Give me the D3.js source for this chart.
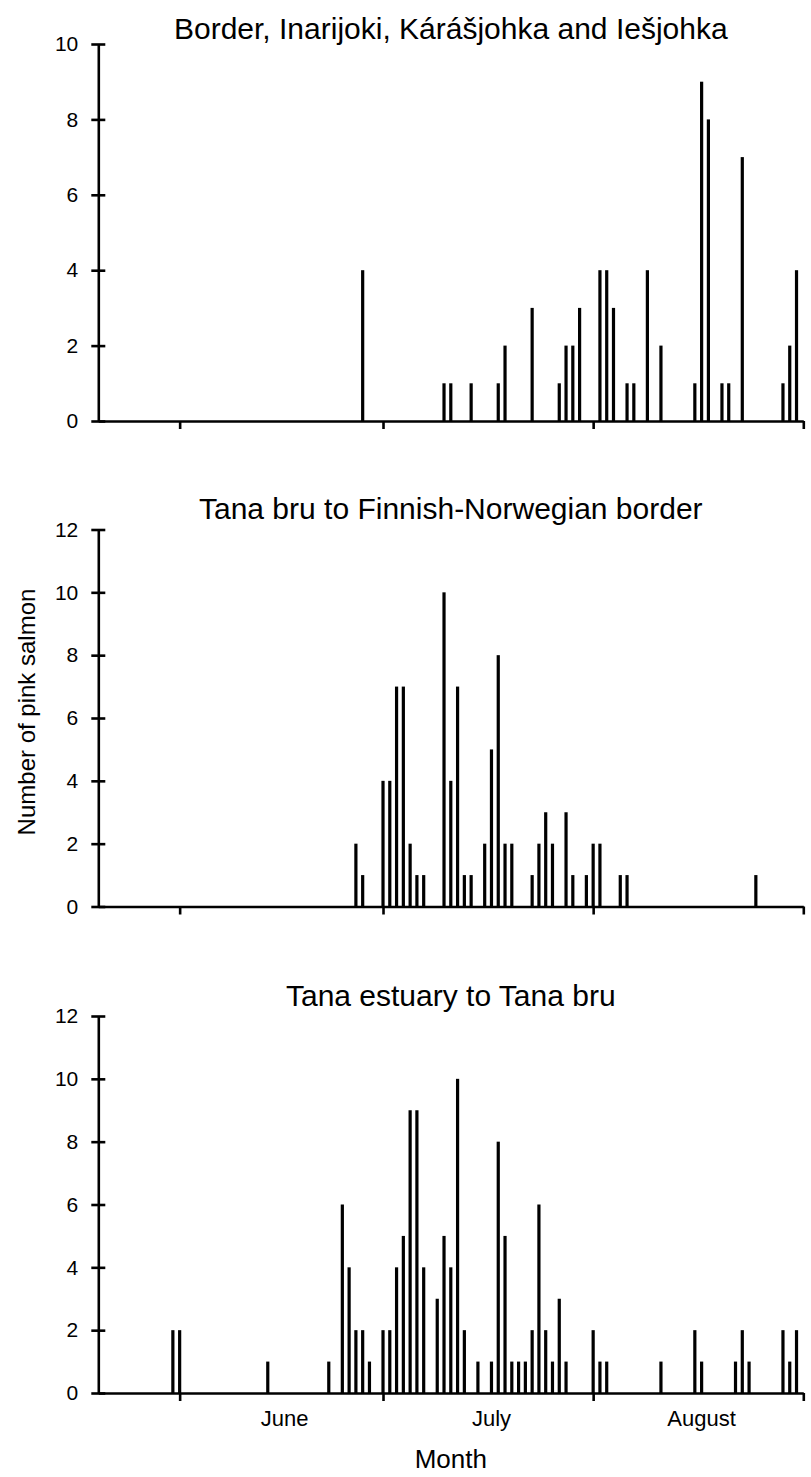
<!DOCTYPE html>
<html>
<head>
<meta charset="utf-8">
<script src="https://cdn.jsdelivr.net/npm/d3@7"></script>
<style>
  body { margin: 0; background: #fff; }
  svg { display: block; }
  text { font-family: "Liberation Sans", Arial, Helvetica, sans-serif; fill: #000; }
</style>
</head>
<body>
<svg id="chart" width="811" height="1477"></svg>
<script>
// Daily catches of pink salmon. Day numbers count from 1 June (day 0);
// negative days fall in late May, day 92 is 1 September.
const borderDays   = [27, 39, 40, 43, 47, 48, 52, 56, 57, 58, 59, 62, 63, 64, 66, 67, 69, 71, 76, 77, 78, 80, 81, 83, 89, 90, 91];
const borderCounts = [ 4,  1,  1,  1,  1,  2,  3,  1,  2,  2,  3,  4,  4,  3,  1,  1,  4,  2,  1,  9,  8,  1,  1,  7,  1,  2,  4];

const bridgeDays   = [26, 27, 30, 31, 32, 33, 34, 35, 36, 39, 40, 41, 42, 43, 45, 46, 47, 48, 49, 52, 53, 54, 55, 57, 58, 60, 61, 62, 65, 66, 85];
const bridgeCounts = [ 2,  1,  4,  4,  7,  7,  2,  1,  1, 10,  4,  7,  1,  1,  2,  5,  8,  2,  2,  1,  2,  3,  2,  3,  1,  1,  2,  2,  1,  1,  1];

const estuaryDays   = [-1, 0, 13, 22, 24, 25, 26, 27, 28, 30, 31, 32, 33, 34, 35, 36, 38, 39, 40, 41, 42, 44, 46, 47, 48, 49, 50, 51, 52, 53, 54, 55, 56, 57, 61, 62, 63, 71, 76, 77, 82, 83, 84, 89, 90, 91];
const estuaryCounts = [ 2, 2,  1,  1,  6,  4,  2,  2,  1,  2,  2,  4,  5,  9,  9,  4,  3,  5,  4, 10,  2,  1,  1,  8,  5,  1,  1,  1,  2,  6,  2,  1,  3,  1,  2,  1,  1,  1,  2,  1,  1,  2,  1,  2,  1,  2];

const panelTitles = [
  "Border, Inarijoki, Kárášjohka and Iešjohka",
  "Tana bru to Finnish-Norwegian border",
  "Tana estuary to Tana bru"
];
const panelMax = [10, 12, 12];

const monthStarts = [0, 30, 61, 92];
const monthNames  = ["June", "July", "August"];

const panels = [
  { title: panelTitles[0], days: borderDays,  counts: borderCounts,  yMax: panelMax[0] },
  { title: panelTitles[1], days: bridgeDays,  counts: bridgeCounts,  yMax: panelMax[1] },
  { title: panelTitles[2], days: estuaryDays, counts: estuaryCounts, yMax: panelMax[2] }
];

const svg = d3.select("#chart");
const left = 98.3, right = 803.3, plotH = 377;
const tops = [44, 529.5, 1016];
const titleGap = [5, 10.5, 10];
const axisW = 2.6, barW = 3.2;

const x = d3.scaleLinear().domain([-12, 92]).range([left, right]);

panels.forEach((p, i) => {
  const top = tops[i], bottom = top + plotH;
  const y = d3.scaleLinear().domain([0, p.yMax]).range([bottom, top]);
  const g = svg.append("g");

  // panel title
  g.append("text")
    .attr("x", (left + right) / 2)
    .attr("y", top - titleGap[i])
    .attr("text-anchor", "middle")
    .style("font-size", "30px")
    .text(p.title);

  // one bar per day with catches
  g.append("g").selectAll("rect")
    .data(p.days.map((d, k) => ({ day: d, n: p.counts[k] })))
    .join("rect")
    .attr("x", d => x(d.day) - barW / 2)
    .attr("width", barW)
    .attr("y", d => y(d.n))
    .attr("height", d => bottom - y(d.n))
    .attr("fill", "#000");

  // y axis, ticks crossing the line
  const ya = g.append("g")
    .attr("transform", `translate(${left},0)`)
    .call(d3.axisLeft(y)
      .tickValues(d3.range(0, p.yMax + 1, 2))
      .tickSizeInner(7)
      .tickSizeOuter(0)
      .tickPadding(13));
  ya.select(".domain").attr("stroke", "#000").attr("stroke-width", axisW);
  ya.selectAll(".tick line").attr("x1", 7).attr("stroke", "#000").attr("stroke-width", axisW);
  ya.selectAll(".tick text").style("font-size", "21px").attr("fill", "#000");

  // x axis with month boundary ticks
  const xa = g.append("g")
    .attr("transform", `translate(0,${bottom})`)
    .call(d3.axisBottom(x)
      .tickValues(monthStarts)
      .tickSizeInner(8)
      .tickSizeOuter(0)
      .tickFormat(""));
  xa.select(".domain").attr("stroke", "#000").attr("stroke-width", axisW);
  xa.selectAll(".tick line").attr("stroke", "#000").attr("stroke-width", axisW);

  if (i === panels.length - 1) {
    // month names centred under each month
    g.append("g").selectAll("text")
      .data(monthNames)
      .join("text")
      .attr("x", (d, k) => x((monthStarts[k] + monthStarts[k + 1]) / 2 + 0.5))
      .attr("y", bottom + 33)
      .attr("text-anchor", "middle")
      .style("font-size", "22px")
      .text(d => d);

    g.append("text")
      .attr("x", (left + right) / 2)
      .attr("y", bottom + 75)
      .attr("text-anchor", "middle")
      .style("font-size", "26px")
      .text("Month");
  }
});

// shared y axis title
svg.append("text")
  .attr("transform", `translate(35,712) rotate(-90)`)
  .attr("text-anchor", "middle")
  .style("font-size", "24px")
  .text("Number of pink salmon");
</script>
</body>
</html>
